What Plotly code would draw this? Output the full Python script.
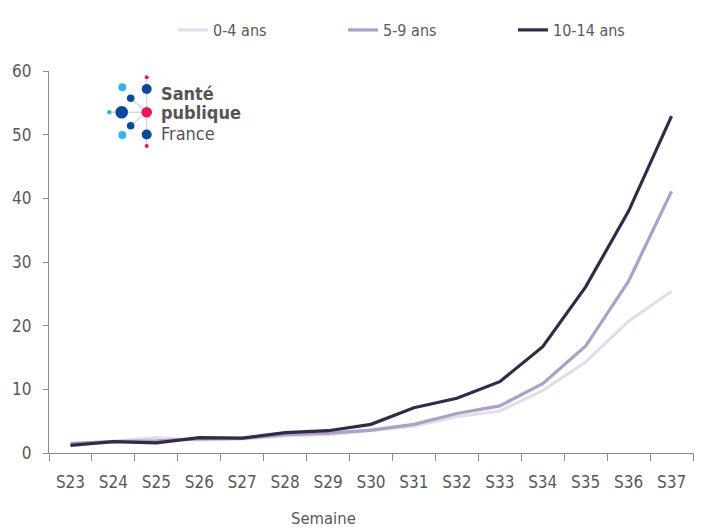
import plotly.graph_objects as go

# Weekly rates by age group
semaines = ["S23", "S24", "S25", "S26", "S27", "S28", "S29", "S30",
            "S31", "S32", "S33", "S34", "S35", "S36", "S37"]
ages_0_4 = [1.3, 1.9, 2.4, 2.0, 2.2, 2.7, 2.9, 3.5, 4.2, 5.7, 6.6, 9.8, 14.3, 20.7, 25.4]
ages_5_9 = [1.5, 1.8, 1.9, 2.2, 2.3, 2.9, 3.1, 3.6, 4.5, 6.2, 7.4, 10.9, 16.8, 27.0, 41.1]
ages_10_14 = [1.2, 1.8, 1.6, 2.4, 2.35, 3.2, 3.5, 4.5, 7.1, 8.6, 11.2, 16.7, 26.1, 38.0, 52.9]

series_names = ["0-4 ans", "5-9 ans", "10-14 ans"]
series_colors = ["#e2dee9", "#ad9fc6", "#332a48"]

FONT = "DejaVu Sans Condensed, Liberation Sans, sans-serif"
TXT = "#595959"

W, H = 702, 530
L, R, T, B = 49, 9, 71, 77  # plot area in pixels

pw, ph = W - L - R, H - T - B


def px(x):
    return (x - L) / pw


def py(y):
    return (H - B - y) / ph


fig = go.Figure()
legend_ids = ["legend", "legend2", "legend3"]
legend_text_x = [215, 385, 555]
for name, vals, col, lid in zip(series_names, [ages_0_4, ages_5_9, ages_10_14],
                                series_colors, legend_ids):
    fig.add_trace(go.Scatter(
        x=semaines, y=vals, name=name, mode="lines",
        line=dict(color=col, width=3.2), legend=lid,
    ))

# Santé publique France logo
shapes = []
grey = "#d9d9d9"
for x0, y0, x1, y1 in [(146.7, 77, 146.7, 146), (121.7, 112.3, 146.7, 112.3),
                       (130.7, 98.3, 146.7, 112.3), (130.7, 125.7, 146.7, 112.3),
                       (109.3, 112.3, 121.7, 112.3)]:
    shapes.append(dict(type="line", xref="paper", yref="paper",
                       x0=px(x0), y0=py(y0), x1=px(x1), y1=py(y1),
                       line=dict(color=grey, width=1.5), layer="above"))
dots = [
    (146.7, 77.3, 2.0, "#e8175d"),
    (146.7, 89.0, 5.0, "#0b4a99"),
    (122.3, 87.3, 4.0, "#35b5e9"),
    (130.7, 98.3, 3.8, "#0b4a99"),
    (109.3, 112.3, 2.3, "#35b5e9"),
    (121.7, 112.3, 6.3, "#0b4a99"),
    (146.7, 112.3, 5.3, "#e8175d"),
    (130.7, 125.7, 3.8, "#0b4a99"),
    (122.3, 135.0, 4.0, "#35b5e9"),
    (146.7, 134.5, 5.0, "#0b4a99"),
    (146.7, 146.0, 2.0, "#e8175d"),
]
for cx, cy, r, col in dots:
    shapes.append(dict(type="circle", xref="paper", yref="paper",
                       x0=px(cx - r), x1=px(cx + r), y0=py(cy + r), y1=py(cy - r),
                       fillcolor=col, line=dict(width=0), layer="above"))

annotations = []
for text, y, bold in [("Santé", 93.5, True), ("publique", 112.5, True), ("France", 133, False)]:
    annotations.append(dict(
        xref="paper", yref="paper", x=px(159), y=py(y), xanchor="left", yanchor="middle",
        text=f"<b>{text}</b>" if bold else text, showarrow=False,
        font=dict(family="DejaVu Sans Condensed, Liberation Sans, sans-serif",
                  size=18, color="#555555"),
    ))

annotations.append(dict(
    xref="paper", yref="paper", x=px(323), y=py(518), xanchor="center", yanchor="middle",
    text="Semaine", showarrow=False, font=dict(family=FONT, size=16.5, color=TXT),
))

legend_style = dict(orientation="h", xanchor="left", yanchor="middle", itemwidth=30,
                    font=dict(family=FONT, size=16, color=TXT),
                    bgcolor="rgba(0,0,0,0)", borderwidth=0)
legends = {lid: dict(legend_style, x=px(tx - 42), y=py(30))
           for lid, tx in zip(legend_ids, legend_text_x)}

fig.update_layout(
    width=W, height=H,
    margin=dict(l=L, r=R, t=T, b=B, autoexpand=False),
    paper_bgcolor="white", plot_bgcolor="white",
    font=dict(family=FONT, size=16, color=TXT),
    showlegend=True,
    shapes=shapes,
    annotations=annotations,
    **legends,
)
fig.update_xaxes(
    type="category", range=[-0.5, 14.5], tickson="boundaries",
    showline=True, linecolor="#8c8c8c", linewidth=1.3,
    ticks="outside", ticklen=7, tickcolor="#8c8c8c", tickwidth=1.3,
    showgrid=False, zeroline=False, ticklabelstandoff=13,
    tickfont=dict(family=FONT, size=17, color=TXT),
)
fig.update_yaxes(
    range=[0, 60], dtick=10, tick0=0,
    showline=True, linecolor="#8c8c8c", linewidth=1.3,
    ticks="outside", ticklen=5, tickcolor="#8c8c8c", tickwidth=1.3,
    showgrid=False, zeroline=False, ticklabelstandoff=8,
    tickfont=dict(family=FONT, size=17, color=TXT),
)

fig.write_html("out.html")
